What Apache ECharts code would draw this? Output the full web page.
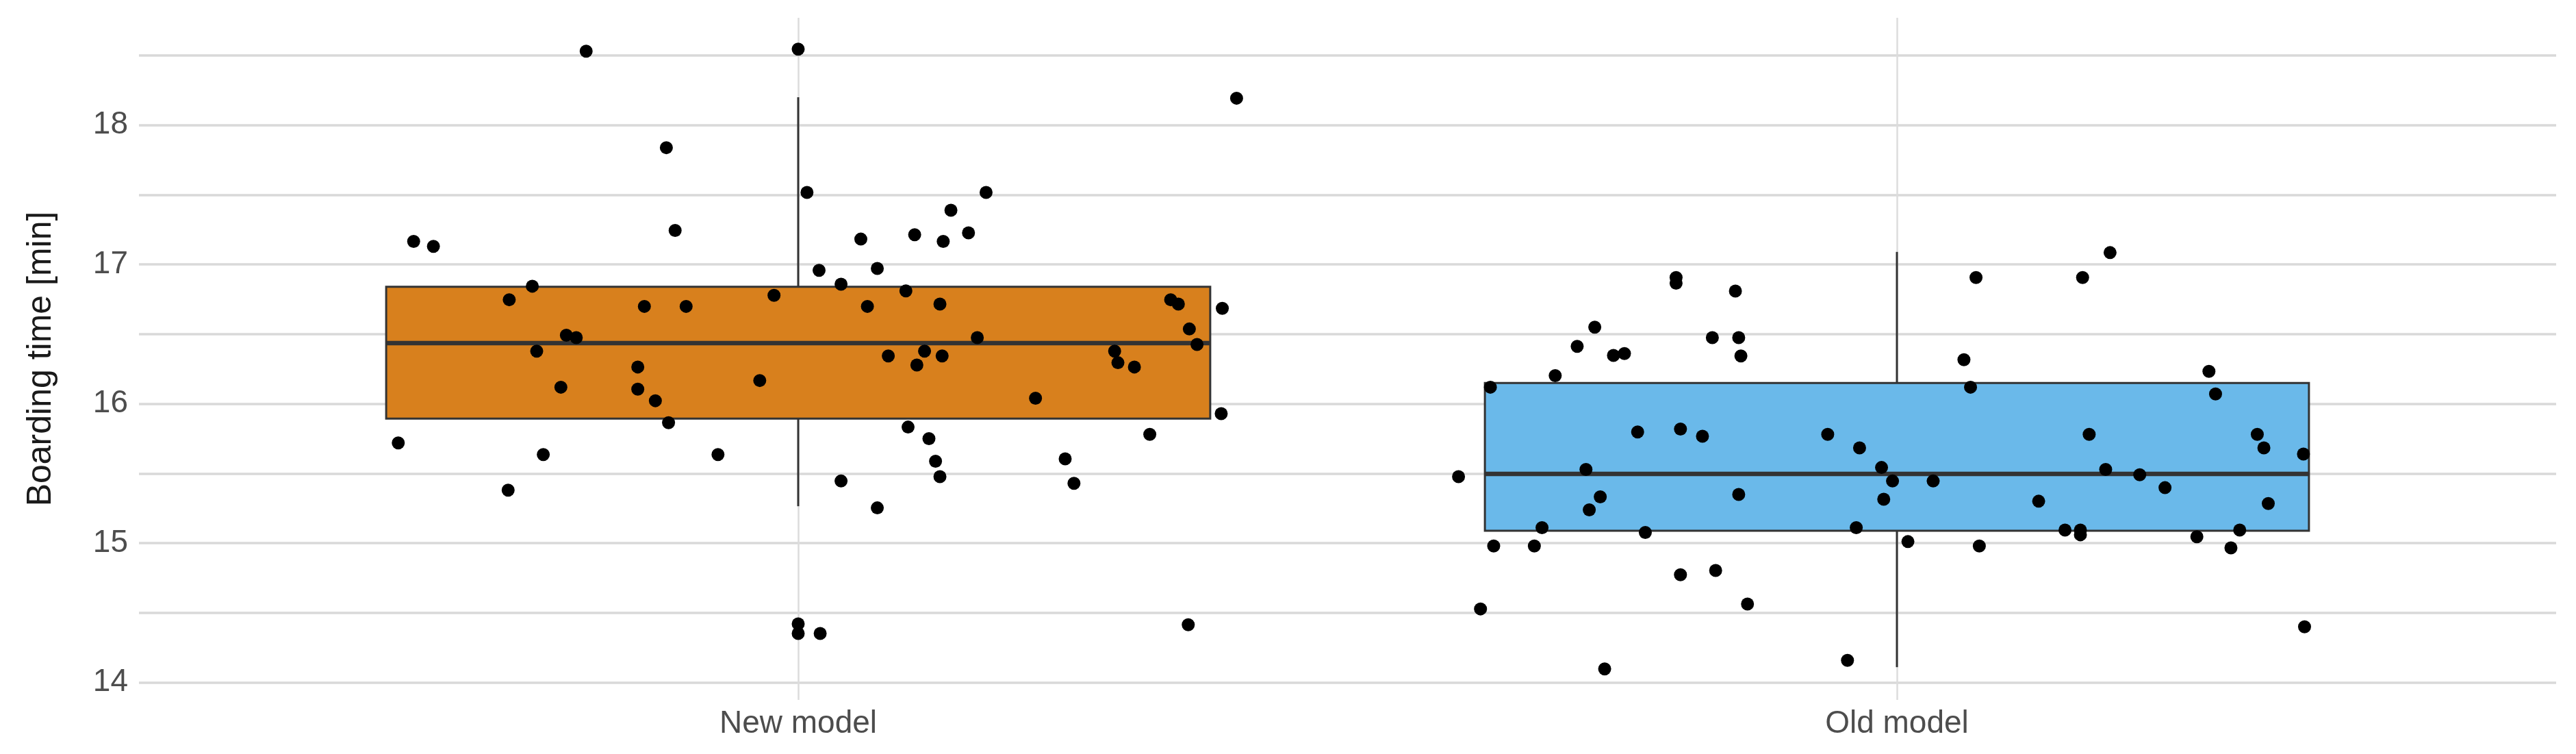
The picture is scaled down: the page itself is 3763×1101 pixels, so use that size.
<!DOCTYPE html>
<html>
<head>
<meta charset="utf-8">
<script src="https://cdn.jsdelivr.net/npm/echarts@6/dist/echarts.min.js"></script>
<style>
  html, body { margin: 0; padding: 0; background: #fff; }
  #chart { width: 3763px; height: 1101px; }
</style>
</head>
<body>
<div id="chart"></div>
<script>
// categories on the x axis (positions 1 and 2)
const categories = ['New model', 'Old model'];
// box stats: [lower whisker, Q1, median, Q3, upper whisker]
const newModelBox = [15.265, 15.894, 16.435, 16.84, 18.2];
const oldModelBox = [14.11, 15.089, 15.497, 16.149, 17.09];

// jittered raw points: boarding time and horizontal jitter (category units)
const newModelTimes = [
  18.53, 18.545, 18.193, 17.838, 17.517, 17.517, 17.389, 17.244, 17.213, 17.227,
  17.182, 17.165, 17.165, 17.13, 16.958, 16.971, 16.858, 16.844, 16.81, 16.778,
  16.747, 16.747, 16.716, 16.685, 16.699, 16.699, 16.699, 16.716, 16.492, 16.475,
  16.475, 16.537, 16.426, 16.378, 16.378, 16.343, 16.343, 16.378, 16.295, 16.278,
  16.264, 16.264, 16.167, 16.119, 16.105, 16.022, 16.04, 15.929, 15.864, 15.833,
  15.781, 15.75, 15.719, 15.636, 15.636, 15.605, 15.588, 15.477, 15.446, 15.429,
  15.38, 15.253, 14.421, 14.352, 14.352, 14.414
];
const newModelJitter = [
  -0.193, 0, 0.399, -0.12, 0.008, 0.171, 0.139, -0.112, 0.106, 0.155,
  0.057, 0.132, -0.35, -0.332, 0.019, 0.072, 0.039, -0.242, 0.098, -0.022,
  -0.263, 0.339, 0.346, 0.386, -0.14, -0.102, 0.063, 0.129, -0.211, -0.202,
  0.163, 0.356, 0.363, -0.238, 0.115, 0.082, 0.131, 0.288, 0.291, 0.108,
  0.306, -0.146, -0.035, -0.216, -0.146, -0.13, 0.216, 0.385, -0.118, 0.1,
  0.32, 0.119, -0.364, -0.232, -0.073, 0.243, 0.125, 0.129, 0.039, 0.251,
  -0.264, 0.072, 0, 0, 0.02, 0.355
];
const oldModelTimes = [
  17.085, 16.906, 16.865, 16.906, 16.906, 16.809, 16.55, 16.475, 16.475, 16.412,
  16.347, 16.361, 16.343, 16.316, 16.233, 16.202, 16.119, 16.119, 16.071, 15.798,
  15.819, 15.767, 15.781, 15.781, 15.781, 15.684, 15.684, 15.639, 15.529, 15.543,
  15.529, 15.477, 15.491, 15.446, 15.446, 15.398, 15.349, 15.332, 15.315, 15.301,
  15.284, 15.239, 15.111, 15.077, 15.111, 15.094, 15.094, 15.06, 15.094, 15.046,
  14.98, 14.98, 15.011, 14.98, 14.966, 14.773, 14.804, 14.563, 14.528, 14.4,
  14.159, 14.097
];
const oldModelJitter = [
  0.194, -0.201, -0.201, 0.072, 0.169, -0.147, -0.275, -0.168, -0.144, -0.291,
  -0.258, -0.248, -0.142, 0.061, 0.284, -0.311, -0.37, 0.067, 0.29, -0.236,
  -0.197, -0.177, -0.063, 0.175, 0.328, -0.034, 0.334, 0.37, -0.283, -0.014,
  0.19, -0.399, 0.221, -0.004, 0.033, 0.244, -0.144, -0.27, -0.012, 0.129,
  0.338, -0.28, -0.323, -0.229, -0.037, 0.153, 0.167, 0.167, 0.312, 0.273,
  -0.367, -0.33, 0.01, 0.075, 0.304, -0.197, -0.165, -0.136, -0.379, 0.371,
  -0.045, -0.266
];
const yTickLabels = [14, 15, 16, 17, 18];
const yGridValues = [14, 14.5, 15, 15.5, 16, 16.5, 17, 17.5, 18, 18.5];

const boxFill = ['#d8801d', '#6ab9ea'];
const halfBox = 0.375;

// [x, lower whisker, Q1, median, Q3, upper whisker]
const boxData = [newModelBox, oldModelBox].map((b, i) => [i + 1].concat(b));
const pointData = [];
newModelTimes.forEach((v, i) => pointData.push([1 + newModelJitter[i], v]));
oldModelTimes.forEach((v, i) => pointData.push([2 + oldModelJitter[i], v]));

const chart = echarts.init(document.getElementById('chart'));
const labelFont = 'Liberation Sans, Arial, sans-serif';

// ggplot style box: no whisker caps, thick median
function renderBox(params, api) {
  const x = api.value(0);
  const lo = api.coord([x, api.value(1)]);
  const q1 = api.coord([x - halfBox, api.value(2)]);
  const med = api.value(3);
  const q3 = api.coord([x + halfBox, api.value(4)]);
  const hi = api.coord([x, api.value(5)]);
  const m1 = api.coord([x - halfBox, med]);
  const m2 = api.coord([x + halfBox, med]);
  const stroke = '#333';
  return {
    type: 'group',
    children: [
      { type: 'line', shape: { x1: lo[0], y1: lo[1], x2: lo[0], y2: q1[1] }, style: { stroke, lineWidth: 3 } },
      { type: 'line', shape: { x1: hi[0], y1: hi[1], x2: hi[0], y2: q3[1] }, style: { stroke, lineWidth: 3 } },
      {
        type: 'rect',
        shape: { x: q1[0], y: q3[1], width: q3[0] - q1[0], height: q1[1] - q3[1] },
        style: { fill: boxFill[params.dataIndex], stroke, lineWidth: 3 }
      },
      { type: 'line', shape: { x1: m1[0], y1: m1[1], x2: m2[0], y2: m2[1] }, style: { stroke, lineWidth: 6.5 } }
    ]
  };
}

chart.setOption({
  animation: false,
  backgroundColor: '#fff',
  grid: { left: 203, right: 29, top: 26, bottom: 79, containLabel: false },
  xAxis: {
    type: 'value',
    min: 0.4,
    max: 2.6,
    axisLine: { show: false },
    axisTick: { show: false, customValues: [1, 2] },
    axisLabel: {
      customValues: [1, 2],
      formatter: (v) => categories[Math.round(v) - 1],
      color: '#4d4d4d',
      fontSize: 46,
      fontFamily: labelFont,
      margin: 12
    },
    splitLine: { show: true, lineStyle: { color: '#dcdcdc', width: 2.5 } }
  },
  yAxis: {
    type: 'value',
    min: 13.875,
    max: 18.77,
    name: 'Boarding time [min]',
    nameLocation: 'middle',
    nameRotate: 90,
    nameGap: 118,
    nameTextStyle: { color: '#1a1a1a', fontSize: 50, fontFamily: labelFont },
    axisLine: { show: false },
    axisTick: { show: false, customValues: yGridValues },
    axisLabel: {
      customValues: yTickLabels,
      color: '#4d4d4d',
      fontSize: 46,
      fontFamily: labelFont,
      margin: 16
    },
    splitLine: { show: true, lineStyle: { color: '#d9d9d9', width: 3.5 } }
  },
  series: [
    {
      type: 'custom',
      renderItem: renderBox,
      encode: { x: 0, y: [1, 2, 3, 4, 5] },
      data: boxData,
      z: 2
    },
    {
      type: 'scatter',
      symbolSize: 19,
      itemStyle: { color: '#000', opacity: 1 },
      data: pointData,
      z: 3
    }
  ]
});
</script>
</body>
</html>
